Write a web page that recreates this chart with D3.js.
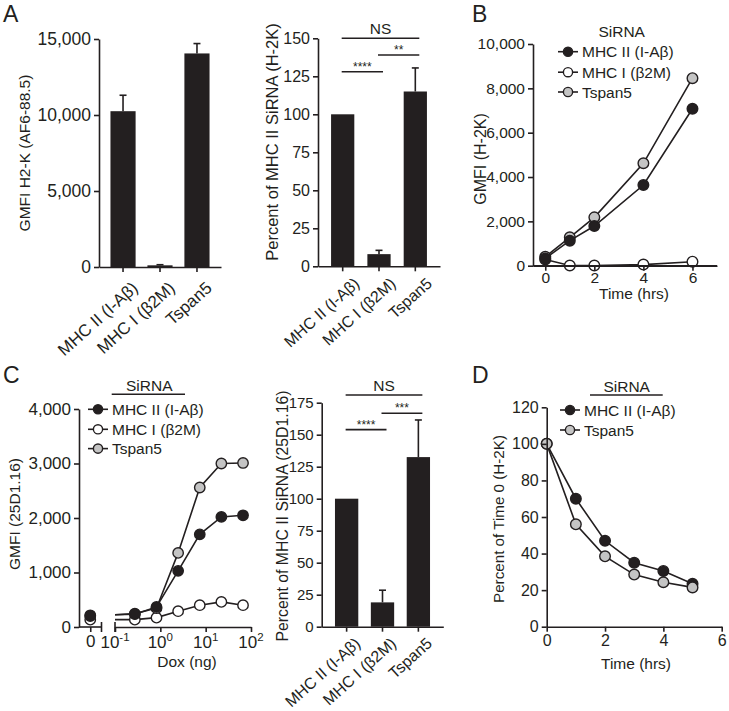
<!DOCTYPE html>
<html><head><meta charset="utf-8">
<script src="https://cdn.jsdelivr.net/npm/d3@7"></script>
<style>
body{margin:0;background:#fff;}
svg{display:block;}
</style></head>
<body><svg id="fig" width="729" height="711"></svg>
<script>
// ---------------- data ----------------
const categories = ["MHC II (I-A\u03b2)", "MHC I (\u03b22M)", "Tspan5"];
const seriesNames = ["MHC II (I-A\u03b2)", "MHC I (\u03b22M)", "Tspan5"];

// Panel A (left): GMFI H2-K (AF6-88.5)
const aGmfiMean = [10250, 110, 14050];
const aGmfiErr  = [1050, 40, 650];
const aGmfiTicks = [0, 5000, 10000, 15000];

// Panel A (right): percent of MHC II siRNA (H-2K)
const aPctMean = [100, 8, 115];
const aPctErr  = [0, 2.5, 15.5];
const aPctTicks = [0, 25, 50, 75, 100, 125, 150];
const aSigPairs  = [[0, 2], [1, 2], [0, 1]];
const aSigLabels = ["NS", "**", "****"];
const aSigLevels = [150, 139, 128];

// Panel B: GMFI (H-2K) over time
const bTime   = [0, 1, 2, 4, 6];
const bMHCII  = [330, 1130, 1790, 3640, 7080];
const bMHCI   = [280, 10, 10, 50, 180];
const bTspan5 = [400, 1280, 2180, 4620, 8460];
const bXTicks = [0, 2, 4, 6];
const bYTicks = [0, 2000, 4000, 6000, 8000, 10000];

// Panel C (left): GMFI (25D1.16) vs Dox
const cDox    = [0.274, 0.823, 2.47, 7.41, 22.2, 66.7];
const cMHCII  = [235, 368, 1030, 1700, 2020, 2050];
const cMHCI   = [135, 172, 290, 400, 460, 400];
const cTspan5 = [245, 345, 1360, 2560, 3000, 3010];
const cZeroDose = [215, 135, 200];          // MHC II, MHC I, Tspan5 at Dox = 0
const cYTicks = [0, 1000, 2000, 3000, 4000];
const cXTicks = [0.1, 1, 10, 100];
const cXTickExp = ["-1", "0", "1", "2"];

// Panel C (right): percent of MHC II siRNA (25D1.16)
const cPctMean = [100, 19, 132.5];
const cPctErr  = [0, 9.5, 29];
const cPctTicks = [0, 25, 50, 75, 100, 125, 150, 175];
const cSigPairs  = [[0, 2], [1, 2], [0, 1]];
const cSigLabels = ["NS", "***", "****"];
const cSigLevels = [181, 166.7, 154];

// Panel D: percent of time 0 (H-2K)
const dTime   = [0, 1, 2, 3, 4, 5];
const dMHCII  = [100, 70, 47, 35, 30.5, 23.5];
const dTspan5 = [100, 56, 38.5, 28.5, 24.3, 21.5];
const dXTicks = [0, 2, 4, 6];
const dYTicks = [0, 20, 40, 60, 80, 100, 120];

// ---------------- drawing ----------------
const FONT = '"Liberation Sans", Arial, Helvetica, sans-serif';
const INK = "#231f20";
const GRAY = "#c4c4c4";
const SW = 1.6;
const fills = {"MHC II (I-A\u03b2)": INK, "MHC I (\u03b22M)": "#ffffff", "Tspan5": GRAY};

const svg = d3.select("#fig");
svg.append("rect").attr("width", 729).attr("height", 711).attr("fill", "#fff");

function styleAxis(g, fs) {
  g.attr("font-family", FONT).attr("font-size", fs);
  g.selectAll("path, line").attr("stroke", INK).attr("stroke-width", SW);
  g.selectAll("text").attr("fill", INK);
}
function leftAxis(scale, x, ticks, fmt, fs) {
  const g = svg.append("g").attr("transform", `translate(${x},0)`)
    .call(d3.axisLeft(scale).tickValues(ticks).tickFormat(fmt).tickSize(5).tickSizeOuter(0).tickPadding(3));
  styleAxis(g, fs);
  return g;
}
function bottomAxis(scale, y, ticks, fmt, fs, pad) {
  const g = svg.append("g").attr("transform", `translate(0,${y})`)
    .call(d3.axisBottom(scale).tickValues(ticks).tickFormat(fmt).tickSize(5).tickSizeOuter(0).tickPadding(pad));
  styleAxis(g, fs);
  return g;
}
function text(x, y, s, fs, anchor) {
  return svg.append("text").attr("x", x).attr("y", y).attr("font-family", FONT)
    .attr("font-size", fs).attr("fill", INK).attr("text-anchor", anchor || "start").text(s);
}
function vText(x, y, s, fs) {
  return svg.append("text").attr("transform", `translate(${x},${y}) rotate(-90)`)
    .attr("dy", "0.35em").attr("font-family", FONT).attr("font-size", fs).attr("fill", INK)
    .attr("text-anchor", "middle").text(s);
}
function hLine(x1, x2, y) {
  svg.append("line").attr("x1", x1).attr("x2", x2).attr("y1", y).attr("y2", y)
    .attr("stroke", INK).attr("stroke-width", SW);
}

function barPanel(cfg) {
  const y = d3.scaleLinear().domain([0, cfg.yMax]).range([cfg.y0, cfg.y1]);
  const x = d3.scaleBand().domain(categories).range([cfg.x0, cfg.x1])
    .paddingInner(cfg.pi).paddingOuter(cfg.po);
  const cx = i => x(categories[i]) + x.bandwidth() / 2;
  svg.append("g").selectAll("rect").data(cfg.means).join("rect")
    .attr("x", (d, i) => x(categories[i])).attr("width", x.bandwidth())
    .attr("y", d => y(d)).attr("height", d => y(0) - y(d)).attr("fill", INK);
  const eg = svg.append("g").attr("stroke", INK).attr("stroke-width", SW);
  cfg.means.forEach((m, i) => {
    if (!cfg.errs[i]) return;
    const top = y(m + cfg.errs[i]);
    eg.append("line").attr("x1", cx(i)).attr("x2", cx(i)).attr("y1", y(m)).attr("y2", top);
    eg.append("line").attr("x1", cx(i) - 3.5).attr("x2", cx(i) + 3.5).attr("y1", top).attr("y2", top);
  });
  leftAxis(y, cfg.x0, cfg.yTicks, cfg.fmt, cfg.fs);
  const xa = svg.append("g").attr("transform", `translate(0,${cfg.y0})`)
    .call(d3.axisBottom(x).tickSize(5).tickSizeOuter(0));
  xa.selectAll("text").remove();
  styleAxis(xa, cfg.fs);
  categories.forEach((c, i) => {
    svg.append("text").attr("transform", `translate(${cx(i) + cfg.ldx},${cfg.y0 + cfg.ldy}) rotate(-42)`)
      .attr("text-anchor", "end").attr("dy", "0.35em").attr("font-family", FONT)
      .attr("font-size", cfg.cfs).attr("fill", INK).text(c);
  });
  if (cfg.sigPairs) {
    cfg.sigPairs.forEach((p, k) => {
      const yy = y(cfg.sigLevels[k]);
      const xa1 = cx(p[0]) - 1, xa2 = cx(p[1]) + 4;
      hLine(xa1, xa2, yy);
      const lab = cfg.sigLabels[k];
      if (lab === "NS") text((xa1 + xa2) / 2, yy - 4.5, lab, 15.5, "middle");
      else text((xa1 + xa2) / 2, yy - 1, lab, 12, "middle");
    });
  }
  vText(cfg.lx, cfg.ly, cfg.ylabel, cfg.lfs);
}

function drawSeries(x, y, xs, ys, fill, r) {
  const line = d3.line().x((d, i) => x(xs[i])).y(d => y(d));
  svg.append("path").datum(ys).attr("d", line).attr("fill", "none")
    .attr("stroke", INK).attr("stroke-width", SW);
  svg.append("g").selectAll("circle").data(ys).join("circle")
    .attr("cx", (d, i) => x(xs[i])).attr("cy", d => y(d)).attr("r", r)
    .attr("fill", fill).attr("stroke", INK).attr("stroke-width", 1.4);
}

function legend(mx, rows, names, fs) {
  names.forEach((n, i) => {
    hLine(mx - 10, mx + 10, rows[i]);
    svg.append("circle").attr("cx", mx).attr("cy", rows[i]).attr("r", 4.6)
      .attr("fill", fills[n]).attr("stroke", INK).attr("stroke-width", 1.4);
    text(mx + 14, rows[i], n, fs).attr("dy", "0.36em");
  });
}

// Panel letters
text(3, 22, "A", 23);
text(472, 22, "B", 23);
text(3, 383, "C", 23);
text(472, 383, "D", 23);

// ---- A left
barPanel({x0: 99, x1: 221, y0: 267, y1: 39, yMax: 15000, yTicks: aGmfiTicks, fmt: d3.format(","),
  fs: 17.5, cfs: 17, ldx: 12, ldy: 18, pi: 0.32, po: 0.31, means: aGmfiMean, errs: aGmfiErr,
  ylabel: "GMFI H2-K (AF6-88.5)", lx: 25, ly: 153, lfs: 15.5});

// ---- A right
barPanel({x0: 318, x1: 440, y0: 266.3, y1: 38.3, yMax: 150, yTicks: aPctTicks, fmt: d3.format("d"),
  fs: 16, cfs: 16, ldx: 14, ldy: 14.5, pi: 0.36, po: 0.36, means: aPctMean, errs: aPctErr,
  sigPairs: aSigPairs, sigLabels: aSigLabels, sigLevels: aSigLevels,
  ylabel: "Percent of MHC II SiRNA (H-2K)", lx: 272, ly: 142, lfs: 16.5});

// ---- B
{
  const x = d3.scaleLinear().domain([-0.5, 7]).range([533, 717]);
  const y = d3.scaleLinear().domain([0, 10000]).range([265.7, 44]);
  drawSeries(x, y, bTime, bMHCI, fills[seriesNames[1]], 5.3);
  drawSeries(x, y, bTime, bTspan5, fills[seriesNames[2]], 5.3);
  drawSeries(x, y, bTime, bMHCII, fills[seriesNames[0]], 5.3);
  leftAxis(y, 533, bYTicks, d3.format(","), 15.5);
  bottomAxis(x, 265.7, bXTicks, d3.format("d"), 15.5, 1);
  svg.append("line").attr("x1", 533).attr("x2", 717).attr("y1", 265.7).attr("y2", 265.7)
    .attr("stroke", INK).attr("stroke-width", SW);
  text(634, 298.5, "Time (hrs)", 15.5, "middle");
  vText(480.5, 159, "GMFI (H-2K)", 16);
  text(621.7, 37, "SiRNA", 15.5, "middle");
  legend(568, [51.7, 72.2, 92], seriesNames, 15.5);
}

// ---- C left
{
  const y = d3.scaleLinear().domain([0, 4000]).range([627, 409]);
  const xLog = d3.scaleLog().domain([0.1, 100]).range([115, 251]);
  const xZero = d3.scaleLinear().domain([-1, 1]).range([79, 101.5]);
  const series = [[cMHCI, 1], [cTspan5, 2], [cMHCII, 0]];
  svg.append("clipPath").attr("id", "clipC").append("rect")
    .attr("x", 115).attr("y", 380).attr("width", 160).attr("height", 260);
  series.forEach(([vals, k]) => {
    const pts = [[xZero(0), y(cZeroDose[k])]].concat(vals.map((v, i) => [xLog(cDox[i]), y(v)]));
    svg.append("path").datum(pts).attr("d", d3.line()).attr("fill", "none")
      .attr("stroke", INK).attr("stroke-width", SW).attr("clip-path", "url(#clipC)");
  });
  series.forEach(([vals, k]) => {
    svg.append("g").selectAll("circle").data(vals).join("circle")
      .attr("cx", (d, i) => xLog(cDox[i])).attr("cy", d => y(d)).attr("r", 5.2)
      .attr("fill", fills[seriesNames[k]]).attr("stroke", INK).attr("stroke-width", 1.4);
  });
  [1, 2, 0].forEach(k => {
    svg.append("circle").attr("cx", xZero(0)).attr("cy", y(cZeroDose[k])).attr("r", 5.2)
      .attr("fill", fills[seriesNames[k]]).attr("stroke", INK).attr("stroke-width", 1.4);
  });
  leftAxis(y, 79, cYTicks, d3.format(","), 17);
  // broken x axis: segment for dose 0
  const g0 = bottomAxis(xZero, 627, [0], d3.format("d"), 17, 3);
  g0.select(".domain").remove();
  hLine(79, 101.5, 627);
  svg.append("line").attr("x1", 101.5).attr("x2", 101.5).attr("y1", 622).attr("y2", 632)
    .attr("stroke", INK).attr("stroke-width", SW);
  // log segment
  const g1 = svg.append("g").attr("transform", "translate(0,627)")
    .call(d3.axisBottom(xLog).tickValues(cXTicks).tickSize(5).tickSizeOuter(0).tickPadding(3)
      .tickFormat(() => ""));
  styleAxis(g1, 17);
  svg.append("line").attr("x1", 115).attr("x2", 115).attr("y1", 622).attr("y2", 632)
    .attr("stroke", INK).attr("stroke-width", SW);
  cXTicks.forEach((t, i) => {
    const tx = svg.append("text").attr("x", xLog(t)).attr("y", 648).attr("text-anchor", "middle")
      .attr("font-family", FONT).attr("font-size", 17).attr("fill", INK);
    tx.append("tspan").text("10");
    tx.append("tspan").attr("dy", -7).attr("font-size", 11.5).text(cXTickExp[i]);
  });
  text(187, 667, "Dox (ng)", 15.5, "middle");
  vText(15, 514, "GMFI (25D1.16)", 15.5);
  text(149.3, 390.5, "SiRNA", 15.5, "middle");
  hLine(111.7, 185, 394.3);
  legend(98, [409.3, 429.3, 448.6], seriesNames, 15.5);
}

// ---- C right
barPanel({x0: 321.7, x1: 443.3, y0: 626.7, y1: 402.7, yMax: 175, yTicks: cPctTicks, fmt: d3.format("d"),
  fs: 15, cfs: 16, ldx: 11, ldy: 14, pi: 0.35, po: 0.37, means: cPctMean, errs: cPctErr,
  sigPairs: cSigPairs, sigLabels: cSigLabels, sigLevels: cSigLevels,
  ylabel: "Percent of MHC II SiRNA (25D1.16)", lx: 282, ly: 516, lfs: 15.8});

// ---- D
{
  const x = d3.scaleLinear().domain([0, 6]).range([546.7, 721.7]);
  const y = d3.scaleLinear().domain([0, 120]).range([626.7, 407.3]);
  drawSeries(x, y, dTime, dMHCII, fills[seriesNames[0]], 5.3);
  drawSeries(x, y, dTime, dTspan5, fills[seriesNames[2]], 5.3);
  leftAxis(y, 546.7, dYTicks, d3.format("d"), 16);
  bottomAxis(x, 626.7, dXTicks, d3.format("d"), 16, 3);
  text(636, 669, "Time (hrs)", 15.5, "middle");
  vText(498.5, 519, "Percent of Time 0 (H-2K)", 15.2);
  text(626.7, 392, "SiRNA", 15.5, "middle");
  hLine(590, 662.7, 395);
  legend(570, [410, 430], [seriesNames[0], seriesNames[2]], 15.5);
}
</script></body></html>
